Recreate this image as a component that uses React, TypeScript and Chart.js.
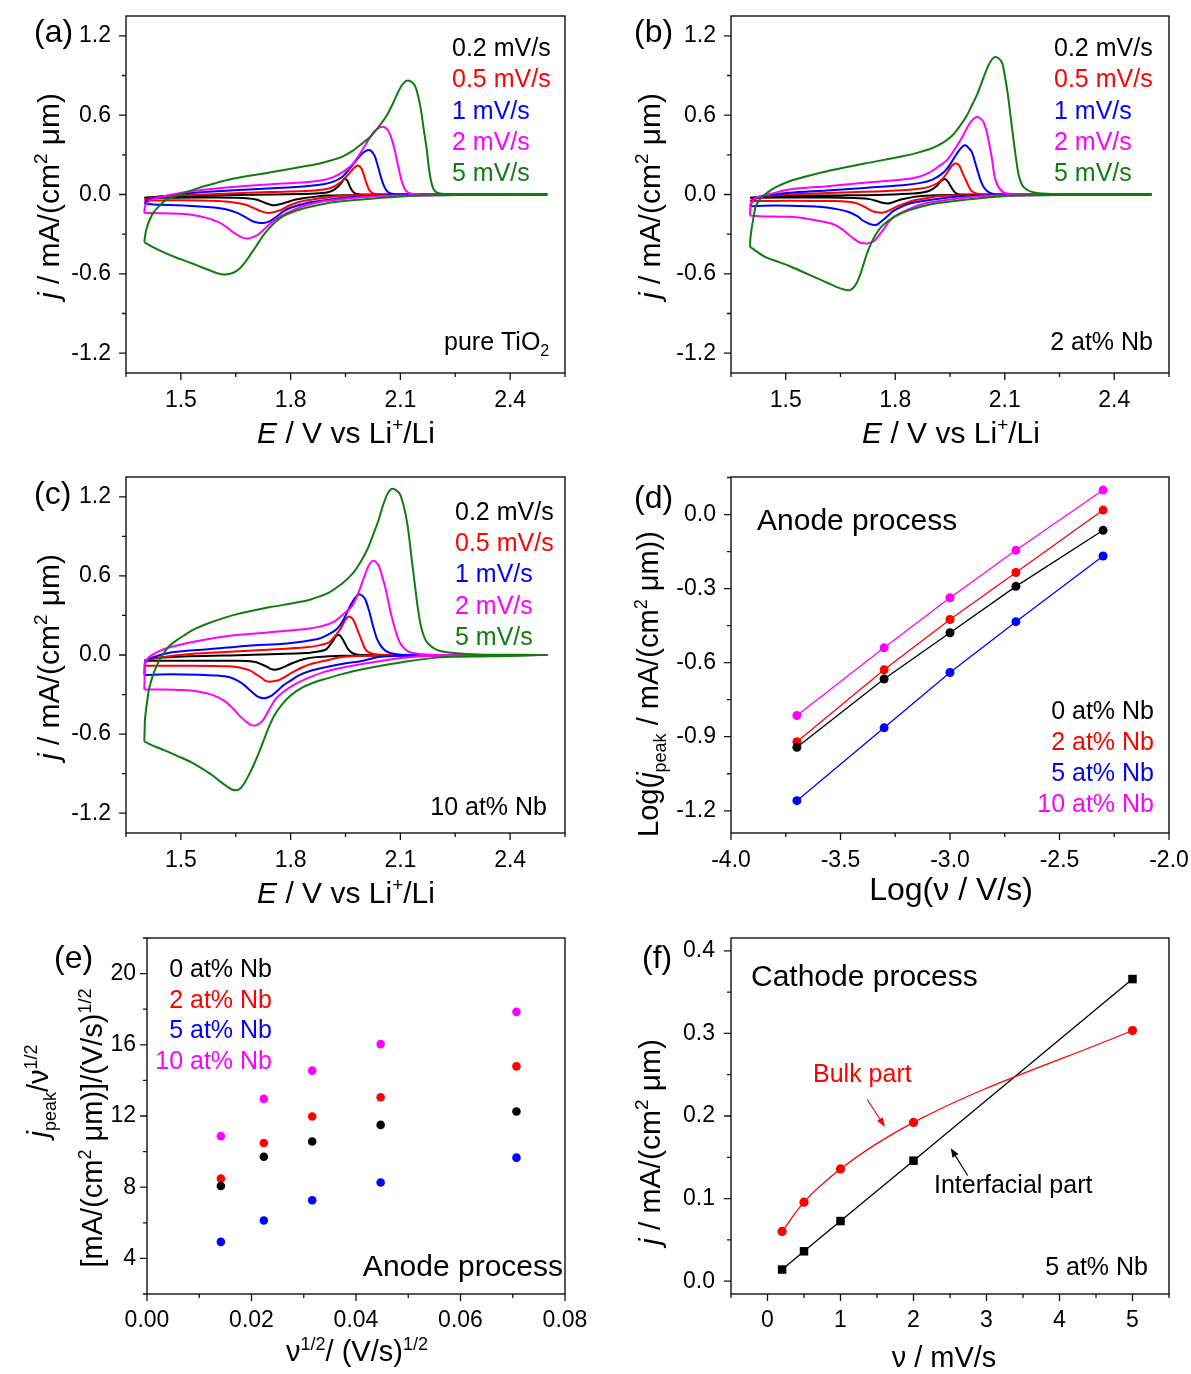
import React, { useEffect, useRef } from 'react';
import { Chart, registerables } from 'chart.js';
Chart.register(...registerables);

const FONT = '"Liberation Sans", Arial, Helvetica, sans-serif';
const BLACK = '#000000', RED = '#ff0000', BLUE = '#0000ff', MAGENTA = '#ff00ff', GREEN = '#0e7d0e';

type Pt = [number, number];

// ---------- Panel (a): pure TiO2 CV loops (E / V, j / mA cm^-2 um^-1) ----------
const CV_A_02: Pt[] = [
  [1.40,-0.025],[1.45,-0.015],[1.55,-0.008],[1.65,-0.004],[1.75,0.0],[1.85,0.006],[1.894,0.013],[1.915,0.03],[1.93,0.06],[1.942,0.1],[1.947,0.121],[1.955,0.105],[1.962,0.06],[1.968,0.03],[1.978,0.006],[2.0,0.0],[2.5,0.0],
  [2.0,-0.003],[1.9,-0.008],[1.863,-0.018],[1.83,-0.03],[1.811,-0.04],[1.79,-0.058],[1.774,-0.072],[1.758,-0.081],[1.745,-0.077],[1.725,-0.058],[1.706,-0.038],[1.68,-0.028],[1.654,-0.025],[1.55,-0.023],[1.40,-0.025],
];
const CV_A_05: Pt[] = [
  [1.40,-0.045],[1.42,-0.025],[1.47,-0.01],[1.6,0.004],[1.74,0.018],[1.842,0.026],[1.89,0.038],[1.915,0.055],[1.94,0.1],[1.96,0.16],[1.975,0.205],[1.983,0.22],[1.992,0.205],[2.0,0.15],[2.008,0.08],[2.017,0.025],[2.03,0.004],[2.06,0.0],[2.5,0.0],
  [2.0,-0.004],[1.93,-0.012],[1.894,-0.025],[1.85,-0.042],[1.821,-0.058],[1.795,-0.085],[1.775,-0.115],[1.753,-0.134],[1.738,-0.139],[1.72,-0.128],[1.7,-0.103],[1.675,-0.076],[1.64,-0.058],[1.6,-0.05],[1.5,-0.044],[1.40,-0.045],
];
const CV_A_1: Pt[] = [
  [1.40,-0.068],[1.41,-0.042],[1.445,-0.015],[1.53,0.012],[1.633,0.03],[1.738,0.045],[1.842,0.063],[1.89,0.078],[1.915,0.095],[1.94,0.13],[1.96,0.19],[1.98,0.26],[1.998,0.315],[2.01,0.335],[2.02,0.33],[2.03,0.29],[2.04,0.2],[2.048,0.12],[2.056,0.06],[2.065,0.02],[2.08,0.004],[2.12,0.0],[2.5,0.0],
  [2.05,-0.008],[1.947,-0.025],[1.89,-0.045],[1.842,-0.066],[1.8,-0.1],[1.78,-0.128],[1.76,-0.17],[1.745,-0.2],[1.73,-0.213],[1.715,-0.215],[1.696,-0.202],[1.675,-0.17],[1.654,-0.139],[1.62,-0.11],[1.591,-0.098],[1.507,-0.083],[1.424,-0.076],[1.40,-0.068],
];
const CV_A_2: Pt[] = [
  [1.40,-0.139],[1.402,-0.09],[1.41,-0.055],[1.424,-0.033],[1.476,0.0],[1.528,0.025],[1.633,0.055],[1.738,0.076],[1.842,0.093],[1.89,0.11],[1.915,0.13],[1.94,0.165],[1.968,0.225],[1.99,0.31],[2.01,0.4],[2.03,0.48],[2.05,0.513],[2.065,0.49],[2.075,0.43],[2.085,0.33],[2.095,0.2],[2.105,0.09],[2.115,0.03],[2.13,0.006],[2.17,0.0],[2.5,0.0],
  [2.1,-0.008],[1.999,-0.018],[1.94,-0.035],[1.894,-0.05],[1.85,-0.075],[1.821,-0.101],[1.79,-0.14],[1.758,-0.19],[1.74,-0.23],[1.727,-0.265],[1.71,-0.305],[1.696,-0.323],[1.685,-0.333],[1.672,-0.33],[1.66,-0.315],[1.64,-0.28],[1.622,-0.24],[1.6,-0.205],[1.57,-0.177],[1.54,-0.158],[1.507,-0.147],[1.45,-0.141],[1.40,-0.139],
];
const CV_A_5: Pt[] = [
  [1.40,-0.36],[1.403,-0.3],[1.408,-0.24],[1.424,-0.139],[1.44,-0.09],[1.455,-0.05],[1.475,-0.02],[1.497,0.0],[1.549,0.05],[1.6,0.09],[1.633,0.114],[1.738,0.164],[1.842,0.215],[1.88,0.235],[1.905,0.253],[1.94,0.285],[1.968,0.328],[1.995,0.385],[2.02,0.442],[2.04,0.51],[2.062,0.594],[2.08,0.69],[2.093,0.77],[2.105,0.83],[2.116,0.859],[2.128,0.855],[2.14,0.82],[2.148,0.75],[2.156,0.644],[2.164,0.49],[2.172,0.341],[2.178,0.2],[2.184,0.1],[2.19,0.045],[2.198,0.018],[2.219,0.003],[2.26,0.0],[2.5,0.0],
  [2.3,-0.004],[2.156,-0.008],[2.05,-0.025],[1.947,-0.05],[1.9,-0.066],[1.842,-0.1],[1.81,-0.127],[1.78,-0.164],[1.76,-0.205],[1.738,-0.265],[1.72,-0.33],[1.706,-0.39],[1.69,-0.455],[1.675,-0.515],[1.66,-0.562],[1.643,-0.592],[1.622,-0.605],[1.602,-0.598],[1.58,-0.575],[1.555,-0.548],[1.528,-0.518],[1.49,-0.48],[1.455,-0.44],[1.425,-0.4],[1.40,-0.36],
];

// ---------- Panel (b): 2 at% Nb ----------
const CV_B_02: Pt[] = [
  [1.402,-0.025],[1.45,-0.014],[1.55,-0.009],[1.65,-0.007],[1.75,-0.003],[1.85,0.008],[1.871,0.013],[1.895,0.03],[1.912,0.06],[1.925,0.1],[1.936,0.118],[1.944,0.1],[1.95,0.07],[1.958,0.035],[1.966,0.01],[1.98,0.0],[2.5,0.0],
  [1.95,-0.004],[1.88,-0.01],[1.851,-0.018],[1.825,-0.032],[1.809,-0.043],[1.795,-0.058],[1.78,-0.068],[1.765,-0.063],[1.75,-0.05],[1.73,-0.035],[1.716,-0.03],[1.613,-0.023],[1.402,-0.025],
];
const CV_B_05: Pt[] = [
  [1.402,-0.05],[1.418,-0.025],[1.459,-0.008],[1.56,0.005],[1.716,0.02],[1.82,0.033],[1.87,0.045],[1.892,0.058],[1.915,0.085],[1.933,0.13],[1.948,0.19],[1.958,0.225],[1.967,0.234],[1.975,0.22],[1.985,0.16],[1.995,0.1],[2.003,0.05],[2.01,0.025],[2.025,0.005],[2.05,0.0],[2.5,0.0],
  [1.98,-0.005],[1.92,-0.012],[1.892,-0.025],[1.855,-0.042],[1.83,-0.063],[1.805,-0.09],[1.789,-0.113],[1.775,-0.13],[1.763,-0.138],[1.75,-0.135],[1.737,-0.126],[1.72,-0.1],[1.696,-0.068],[1.67,-0.055],[1.634,-0.05],[1.51,-0.048],[1.402,-0.05],
];
const CV_B_1: Pt[] = [
  [1.402,-0.088],[1.407,-0.06],[1.412,-0.038],[1.438,-0.013],[1.51,0.013],[1.613,0.03],[1.716,0.05],[1.82,0.07],[1.87,0.088],[1.902,0.113],[1.925,0.15],[1.943,0.2],[1.96,0.27],[1.974,0.33],[1.985,0.365],[1.992,0.372],[2.0,0.355],[2.01,0.32],[2.018,0.25],[2.026,0.175],[2.034,0.105],[2.041,0.063],[2.05,0.03],[2.062,0.01],[2.08,0.0],[2.5,0.0],
  [2.026,-0.008],[1.96,-0.018],[1.923,-0.03],[1.875,-0.05],[1.84,-0.068],[1.815,-0.095],[1.794,-0.126],[1.78,-0.16],[1.768,-0.189],[1.758,-0.212],[1.749,-0.229],[1.738,-0.228],[1.727,-0.219],[1.71,-0.195],[1.696,-0.164],[1.67,-0.13],[1.634,-0.108],[1.6,-0.095],[1.562,-0.088],[1.469,-0.083],[1.402,-0.088],
];
const CV_B_2: Pt[] = [
  [1.402,-0.158],[1.403,-0.1],[1.406,-0.063],[1.418,-0.025],[1.459,0.005],[1.51,0.038],[1.613,0.063],[1.716,0.088],[1.82,0.113],[1.86,0.13],[1.892,0.164],[1.92,0.215],[1.943,0.264],[1.965,0.35],[1.985,0.44],[2.0,0.52],[2.012,0.565],[2.023,0.586],[2.033,0.575],[2.041,0.553],[2.05,0.48],[2.057,0.39],[2.065,0.27],[2.072,0.138],[2.08,0.07],[2.088,0.038],[2.1,0.012],[2.119,0.003],[2.15,0.0],[2.5,0.0],
  [2.077,-0.008],[2.0,-0.02],[1.974,-0.03],[1.92,-0.05],[1.871,-0.075],[1.83,-0.12],[1.799,-0.164],[1.78,-0.215],[1.768,-0.264],[1.755,-0.31],[1.742,-0.352],[1.722,-0.37],[1.705,-0.365],[1.696,-0.352],[1.675,-0.31],[1.655,-0.264],[1.63,-0.225],[1.593,-0.201],[1.55,-0.18],[1.51,-0.169],[1.428,-0.164],[1.402,-0.158],
];
const CV_B_5: Pt[] = [
  [1.402,-0.395],[1.403,-0.34],[1.405,-0.289],[1.41,-0.2],[1.418,-0.088],[1.428,-0.04],[1.438,-0.013],[1.45,0.015],[1.469,0.05],[1.51,0.1],[1.56,0.14],[1.613,0.176],[1.716,0.234],[1.82,0.289],[1.86,0.315],[1.902,0.352],[1.93,0.39],[1.954,0.44],[1.975,0.51],[1.995,0.591],[2.01,0.675],[2.026,0.767],[2.04,0.87],[2.052,0.956],[2.062,1.01],[2.072,1.039],[2.083,1.03],[2.093,0.994],[2.1,0.9],[2.108,0.767],[2.116,0.59],[2.124,0.415],[2.132,0.25],[2.139,0.138],[2.148,0.07],[2.16,0.038],[2.18,0.015],[2.201,0.008],[2.25,0.002],[2.5,0.0],
  [2.3,-0.004],[2.129,-0.008],[2.026,-0.03],[1.923,-0.063],[1.87,-0.092],[1.835,-0.122],[1.805,-0.158],[1.78,-0.2],[1.76,-0.25],[1.745,-0.31],[1.733,-0.375],[1.722,-0.45],[1.713,-0.53],[1.704,-0.605],[1.695,-0.665],[1.685,-0.705],[1.675,-0.724],[1.662,-0.72],[1.644,-0.704],[1.62,-0.675],[1.593,-0.642],[1.55,-0.59],[1.51,-0.541],[1.48,-0.51],[1.448,-0.478],[1.425,-0.44],[1.402,-0.395],
];

// ---------- Panel (c): 10 at% Nb ----------
const CV_C_02: Pt[] = [
  [1.40,-0.043],[1.423,-0.025],[1.528,-0.01],[1.68,0.0],[1.842,0.015],[1.87,0.025],[1.895,0.04],[1.906,0.07],[1.916,0.108],[1.922,0.135],[1.929,0.154],[1.936,0.145],[1.942,0.121],[1.95,0.08],[1.957,0.045],[1.965,0.022],[1.973,0.01],[1.99,0.0],[2.5,0.0],
  [1.94,-0.005],[1.863,-0.018],[1.835,-0.032],[1.811,-0.055],[1.79,-0.08],[1.774,-0.101],[1.758,-0.111],[1.745,-0.105],[1.738,-0.093],[1.72,-0.07],[1.706,-0.055],[1.68,-0.046],[1.654,-0.043],[1.528,-0.043],[1.40,-0.043],
];
const CV_C_05: Pt[] = [
  [1.40,-0.081],[1.402,-0.06],[1.407,-0.043],[1.444,-0.018],[1.528,0.008],[1.633,0.025],[1.738,0.04],[1.842,0.058],[1.88,0.075],[1.905,0.096],[1.92,0.14],[1.936,0.197],[1.948,0.26],[1.957,0.29],[1.965,0.285],[1.973,0.26],[1.98,0.21],[1.989,0.146],[1.997,0.09],[2.004,0.045],[2.015,0.018],[2.031,0.006],[2.06,0.0],[2.5,0.0],
  [1.999,-0.005],[1.94,-0.015],[1.895,-0.043],[1.86,-0.065],[1.832,-0.093],[1.81,-0.125],[1.79,-0.156],[1.775,-0.18],[1.764,-0.194],[1.743,-0.202],[1.73,-0.195],[1.722,-0.176],[1.705,-0.145],[1.69,-0.118],[1.66,-0.095],[1.633,-0.086],[1.528,-0.081],[1.40,-0.081],
];
const CV_C_1: Pt[] = [
  [1.40,-0.151],[1.401,-0.1],[1.404,-0.055],[1.423,-0.018],[1.476,0.02],[1.581,0.045],[1.685,0.071],[1.79,0.088],[1.874,0.121],[1.9,0.15],[1.926,0.197],[1.945,0.27],[1.963,0.373],[1.975,0.43],[1.987,0.461],[1.996,0.45],[2.004,0.423],[2.015,0.33],[2.025,0.222],[2.035,0.13],[2.046,0.071],[2.058,0.035],[2.072,0.015],[2.1,0.002],[2.14,0.0],[2.5,0.0],
  [2.1,-0.005],[2.04,-0.015],[1.999,-0.043],[1.947,-0.065],[1.895,-0.093],[1.855,-0.12],[1.821,-0.156],[1.8,-0.195],[1.779,-0.232],[1.765,-0.27],[1.748,-0.308],[1.737,-0.322],[1.727,-0.328],[1.716,-0.322],[1.706,-0.308],[1.69,-0.27],[1.675,-0.232],[1.655,-0.195],[1.633,-0.169],[1.6,-0.156],[1.56,-0.151],[1.476,-0.146],[1.40,-0.151],
];
const CV_C_2: Pt[] = [
  [1.40,-0.262],[1.401,-0.15],[1.402,-0.055],[1.41,-0.025],[1.418,-0.005],[1.455,0.045],[1.528,0.096],[1.633,0.146],[1.738,0.171],[1.842,0.197],[1.88,0.215],[1.915,0.247],[1.94,0.3],[1.968,0.373],[1.985,0.47],[1.999,0.575],[2.012,0.67],[2.023,0.713],[2.033,0.705],[2.041,0.676],[2.05,0.6],[2.062,0.474],[2.072,0.34],[2.083,0.222],[2.093,0.13],[2.104,0.071],[2.12,0.03],[2.135,0.015],[2.17,0.003],[2.22,0.0],[2.5,0.0],
  [2.25,-0.005],[2.156,-0.01],[2.051,-0.043],[1.947,-0.093],[1.89,-0.13],[1.842,-0.181],[1.81,-0.225],[1.779,-0.282],[1.76,-0.33],[1.748,-0.383],[1.737,-0.435],[1.727,-0.484],[1.715,-0.52],[1.704,-0.534],[1.69,-0.53],[1.68,-0.509],[1.66,-0.46],[1.643,-0.408],[1.62,-0.35],[1.591,-0.308],[1.56,-0.285],[1.528,-0.27],[1.445,-0.262],[1.40,-0.262],
];
const CV_C_5: Pt[] = [
  [1.40,-0.655],[1.401,-0.56],[1.402,-0.484],[1.407,-0.37],[1.413,-0.257],[1.423,-0.16],[1.434,-0.081],[1.45,0.0],[1.465,0.058],[1.485,0.105],[1.507,0.146],[1.54,0.2],[1.581,0.247],[1.654,0.31],[1.738,0.36],[1.842,0.411],[1.875,0.44],[1.905,0.474],[1.94,0.54],[1.968,0.613],[1.99,0.7],[2.01,0.802],[2.028,0.93],[2.041,1.028],[2.052,1.13],[2.062,1.205],[2.07,1.245],[2.078,1.26],[2.088,1.25],[2.099,1.218],[2.11,1.12],[2.12,0.978],[2.13,0.75],[2.14,0.524],[2.148,0.35],[2.156,0.222],[2.166,0.13],[2.177,0.083],[2.195,0.045],[2.219,0.025],[2.282,0.008],[2.35,0.002],[2.5,0.0],
  [2.35,-0.01],[2.208,-0.018],[2.104,-0.055],[1.999,-0.106],[1.94,-0.145],[1.895,-0.181],[1.86,-0.212],[1.83,-0.25],[1.8,-0.308],[1.775,-0.38],[1.755,-0.46],[1.74,-0.55],[1.726,-0.65],[1.712,-0.75],[1.698,-0.84],[1.685,-0.915],[1.674,-0.97],[1.664,-1.008],[1.652,-1.026],[1.64,-1.02],[1.625,-0.995],[1.605,-0.955],[1.585,-0.91],[1.56,-0.865],[1.528,-0.812],[1.49,-0.765],[1.455,-0.723],[1.43,-0.695],[1.40,-0.655],
];

// ---------- Panel (d): log peak current vs log scan rate ----------
const LOG_V = [-3.699, -3.301, -3.0, -2.699, -2.301];
const D_NB0 = [-0.943, -0.666, -0.479, -0.291, -0.064];
const D_NB2 = [-0.92, -0.629, -0.425, -0.235, 0.018];
const D_NB5 = [-1.159, -0.864, -0.64, -0.434, -0.168];
const D_NB10 = [-0.814, -0.54, -0.337, -0.145, 0.099];

// ---------- Panel (e): j_peak / v^1/2 vs v^1/2 ----------
const SQRT_V = [0.01414, 0.02236, 0.03162, 0.04472, 0.07071];
const E_NB0 = [8.07, 9.71, 10.57, 11.5, 12.25];
const E_NB2 = [8.48, 10.48, 11.97, 13.05, 14.79];
const E_NB5 = [4.93, 6.13, 7.27, 8.26, 9.66];
const E_NB10 = [10.87, 12.96, 14.55, 16.04, 17.85];

// ---------- Panel (f): cathode process, 5 at% Nb ----------
const SCAN_RATE = [0.2, 0.5, 1, 2, 5];
const F_BULK = [0.0603, 0.0957, 0.1359, 0.1922, 0.3035];
const F_INTERFACIAL = [0.0141, 0.0362, 0.0728, 0.1459, 0.3658];

// ---------- labels & ticks ----------
const SCAN_LABELS = ['0.2 mV/s', '0.5 mV/s', '1 mV/s', '2 mV/s', '5 mV/s'];
const SCAN_COLORS = [BLACK, RED, BLUE, MAGENTA, GREEN];
const NB_LABELS = ['0 at% Nb', '2 at% Nb', '5 at% Nb', '10 at% Nb'];
const NB_COLORS = [BLACK, RED, BLUE, MAGENTA];

const CV_X_TICKS = [1.5, 1.8, 2.1, 2.4];
const CV_X_MINOR = [1.35, 1.65, 1.95, 2.25, 2.55];
const CV_Y_TICKS = [-1.2, -0.6, 0, 0.6, 1.2];
const CV_Y_MINOR = [-0.9, -0.3, 0.3, 0.9];
const D_X_TICKS = [-4.0, -3.5, -3.0, -2.5, -2.0];
const D_X_MINOR = [-3.75, -3.25, -2.75, -2.25];
const D_Y_TICKS = [-1.2, -0.9, -0.6, -0.3, 0.0];
const D_Y_MINOR = [-1.05, -0.75, -0.45, -0.15, 0.15];
const E_X_TICKS = [0, 0.02, 0.04, 0.06, 0.08];
const E_X_MINOR = [0.01, 0.03, 0.05, 0.07];
const E_Y_TICKS = [4, 8, 12, 16, 20];
const E_Y_MINOR = [2, 6, 10, 14, 18, 22];
const F_X_TICKS = [0, 1, 2, 3, 4, 5];
const F_X_MINOR = [-0.5, 0.5, 1.5, 2.5, 3.5, 4.5, 5.5];
const F_Y_TICKS = [0, 0.1, 0.2, 0.3, 0.4];
const F_Y_MINOR = [0.05, 0.15, 0.25, 0.35];

// ---------- types & helpers ----------
type Seg = { t: string; it?: boolean; sup?: boolean; sub?: boolean };
type TextItem = { x: number; y: number; s: Seg[]; size: number; color?: string; align?: 'left' | 'right' | 'center'; rot?: boolean };
type Arrow = { from: Pt; to: Pt; color: string };
type AxisSpec = { min: number; max: number; major: number[]; minor: number[]; fmt: (v: number) => string; pad: number };
type PanelSpec = {
  left: number; top: number; w: number; h: number;
  box: { l: number; t: number; r: number; b: number };
  x: AxisSpec; y: AxisSpec;
  datasets: any[];
  texts: TextItem[];
  arrows?: Arrow[];
};

const T = (t: string): Seg => ({ t });
const I = (t: string): Seg => ({ t, it: true });
const SUP = (t: string): Seg => ({ t, sup: true });
const SUB = (t: string): Seg => ({ t, sub: true });

const X_TITLE_CV = [I('E'), T(' / V vs Li'), SUP('+'), T('/Li')];
const Y_TITLE_J = [I('j'), T(' / mA/(cm'), SUP('2'), T(' μm)')];

function drawRich(ctx: CanvasRenderingContext2D, it: TextItem) {
  const sz = it.size;
  const fontOf = (s: Seg) => `${s.it ? 'italic ' : ''}${s.sup || s.sub ? Math.round(sz * 0.62) : sz}px ${FONT}`;
  const widths = it.s.map((s) => { ctx.font = fontOf(s); return ctx.measureText(s.t).width; });
  const total = widths.reduce((a, b) => a + b, 0);
  ctx.save();
  ctx.translate(it.x, it.y);
  if (it.rot) ctx.rotate(-Math.PI / 2);
  ctx.fillStyle = it.color || '#000';
  ctx.textBaseline = 'alphabetic';
  ctx.textAlign = 'left';
  let cx = it.align === 'left' ? 0 : it.align === 'right' ? -total : -total / 2;
  const base = 0.36 * sz;
  it.s.forEach((s, i) => {
    ctx.font = fontOf(s);
    const dy = s.sup ? -0.4 * sz : s.sub ? 0.25 * sz : 0;
    ctx.fillText(s.t, cx, base + dy);
    cx += widths[i];
  });
  ctx.restore();
}

const cvDs = (pts: Pt[], color: string) => ({
  data: pts.map(([x, y]) => ({ x, y })),
  showLine: true, borderColor: color, borderWidth: 2, pointRadius: 0, pointHoverRadius: 0, tension: 0.3, fill: false,
});
const dotDs = (xs: number[], ys: number[], color: string, line: boolean, r: number) => ({
  data: xs.map((x, i) => ({ x, y: ys[i] })),
  showLine: line, borderColor: color, borderWidth: 1.3, pointRadius: r, pointHoverRadius: r,
  pointBackgroundColor: color, pointBorderColor: color, pointBorderWidth: 0, tension: 0,
});

const f1 = (v: number) => v.toFixed(1);
const f2 = (v: number) => v.toFixed(2);
const f0 = (v: number) => String(Math.round(v));

const cvAxes = (padY: number) => ({
  x: { min: 1.35, max: 2.55, major: CV_X_TICKS, minor: CV_X_MINOR, fmt: f1, pad: 14 },
  y: { min: -1.35, max: 1.35, major: CV_Y_TICKS, minor: CV_Y_MINOR, fmt: f1, pad: padY },
});

const cvSets = (l02: Pt[], l05: Pt[], l1: Pt[], l2: Pt[], l5: Pt[]) => [
  cvDs(l5, GREEN), cvDs(l2, MAGENTA), cvDs(l1, BLUE), cvDs(l05, RED), cvDs(l02, BLACK),
];

const scanLegend = (x: number, y0: number, dy: number): TextItem[] =>
  SCAN_LABELS.map((l, i) => ({ x, y: y0 + dy * i, s: [T(l)], size: 25, color: SCAN_COLORS[i], align: 'left' as const }));
const nbLegend = (xr: number, y0: number, dy: number): TextItem[] =>
  NB_LABELS.map((l, i) => ({ x: xr, y: y0 + dy * i, s: [T(l)], size: 25, color: NB_COLORS[i], align: 'right' as const }));

const PANELS: PanelSpec[] = [
  {
    left: 0, top: 0, w: 596, h: 460, box: { l: 126, t: 16, r: 565, b: 373 },
    ...cvAxes(15),
    datasets: cvSets(CV_A_02, CV_A_05, CV_A_1, CV_A_2, CV_A_5),
    texts: [
      { x: 34, y: 30, s: [T('(a)')], size: 32, align: 'left' },
      ...scanLegend(452, 47, 31.3),
      { x: 444, y: 341, s: [T('pure TiO'), SUB('2')], size: 25, align: 'left' },
      { x: 346, y: 432, s: X_TITLE_CV, size: 30 },
      { x: 48, y: 196, s: Y_TITLE_J, size: 30, rot: true },
    ],
  },
  {
    left: 596, top: 0, w: 595, h: 460, box: { l: 135, t: 16, r: 573, b: 373 },
    ...cvAxes(15),
    datasets: cvSets(CV_B_02, CV_B_05, CV_B_1, CV_B_2, CV_B_5),
    texts: [
      { x: 38, y: 30, s: [T('(b)')], size: 32, align: 'left' },
      ...scanLegend(458, 47, 31.3),
      { x: 557, y: 341, s: [T('2 at% Nb')], size: 25, align: 'right' },
      { x: 355, y: 432, s: X_TITLE_CV, size: 30 },
      { x: 53, y: 196, s: Y_TITLE_J, size: 30, rot: true },
    ],
  },
  {
    left: 0, top: 460, w: 596, h: 460, box: { l: 126, t: 17, r: 565, b: 373 },
    ...cvAxes(15),
    datasets: cvSets(CV_C_02, CV_C_05, CV_C_1, CV_C_2, CV_C_5),
    texts: [
      { x: 34, y: 32, s: [T('(c)')], size: 32, align: 'left' },
      ...scanLegend(455, 51, 31.2),
      { x: 547, y: 346, s: [T('10 at% Nb')], size: 25, align: 'right' },
      { x: 346, y: 432, s: X_TITLE_CV, size: 30 },
      { x: 48, y: 197, s: Y_TITLE_J, size: 30, rot: true },
    ],
  },
  {
    left: 596, top: 460, w: 595, h: 460, box: { l: 135, t: 17, r: 573, b: 373 },
    x: { min: -4.0, max: -2.0, major: D_X_TICKS, minor: D_X_MINOR, fmt: f1, pad: 14 },
    y: { min: -1.29, max: 0.152, major: D_Y_TICKS, minor: D_Y_MINOR, fmt: f1, pad: 15 },
    datasets: [
      dotDs(LOG_V, D_NB10, MAGENTA, true, 4.5),
      dotDs(LOG_V, D_NB5, BLUE, true, 4.5),
      dotDs(LOG_V, D_NB0, BLACK, true, 4.5),
      dotDs(LOG_V, D_NB2, RED, true, 4.5),
    ],
    texts: [
      { x: 38, y: 36, s: [T('(d)')], size: 32, align: 'left' },
      { x: 161, y: 59, s: [T('Anode process')], size: 30, align: 'left' },
      ...nbLegend(558, 250, 31),
      { x: 355, y: 428, s: [T('Log(ν / V/s)')], size: 32 },
      { x: 52, y: 224, s: [T('Log('), I('j'), SUB('peak'), T(' / mA/(cm'), SUP('2'), T(' μm))')], size: 29, rot: true },
    ],
  },
  {
    left: 0, top: 920, w: 596, h: 454, box: { l: 147, t: 18, r: 565, b: 374 },
    x: { min: 0, max: 0.08, major: E_X_TICKS, minor: E_X_MINOR, fmt: f2, pad: 13 },
    y: { min: 2, max: 22, major: E_Y_TICKS, minor: E_Y_MINOR, fmt: f0, pad: 11 },
    datasets: [
      dotDs(SQRT_V, E_NB0, BLACK, false, 4.3),
      dotDs(SQRT_V, E_NB2, RED, false, 4.3),
      dotDs(SQRT_V, E_NB5, BLUE, false, 4.3),
      dotDs(SQRT_V, E_NB10, MAGENTA, false, 4.3),
    ],
    texts: [
      { x: 54, y: 36, s: [T('(e)')], size: 32, align: 'left' },
      ...nbLegend(272, 48, 30.5),
      { x: 563, y: 345, s: [T('Anode process')], size: 30, align: 'right' },
      { x: 357, y: 431, s: [T('ν'), SUP('1/2'), T('/ (V/s)'), SUP('1/2')], size: 29 },
      { x: 38, y: 171, s: [I('j'), SUB('peak'), T('/ν'), SUP('1/2')], size: 29, rot: true },
      { x: 92, y: 208, s: [T('[mA/(cm'), SUP('2'), T(' μm)]/(V/s)'), SUP('1/2')], size: 29, rot: true },
    ],
  },
  {
    left: 596, top: 920, w: 595, h: 454, box: { l: 135, t: 18, r: 573, b: 374 },
    x: { min: -0.5, max: 5.5, major: F_X_TICKS, minor: F_X_MINOR, fmt: f0, pad: 13 },
    y: { min: -0.0155, max: 0.4155, major: F_Y_TICKS, minor: F_Y_MINOR, fmt: f1, pad: 16 },
    datasets: [
      { ...dotDs(SCAN_RATE, F_BULK, RED, true, 4.6), cubicInterpolationMode: 'monotone' },
      { ...dotDs(SCAN_RATE, F_INTERFACIAL, BLACK, true, 6), pointStyle: 'rect' },
    ],
    arrows: [
      { from: [1.366, 0.220], to: [1.608, 0.187], color: RED },
      { from: [2.742, 0.128], to: [2.51, 0.161], color: BLACK },
    ],
    texts: [
      { x: 46, y: 36, s: [T('(f)')], size: 32, align: 'left' },
      { x: 155, y: 55, s: [T('Cathode process')], size: 30, align: 'left' },
      { x: 552, y: 346, s: [T('5 at% Nb')], size: 25, align: 'right' },
      { x: 217, y: 153, s: [T('Bulk part')], size: 25, color: RED, align: 'left' },
      { x: 338, y: 264, s: [T('Interfacial part')], size: 25, align: 'left' },
      { x: 348, y: 437, s: [T('ν / mV/s')], size: 29 },
      { x: 53, y: 222, s: Y_TITLE_J, size: 30, rot: true },
    ],
  },
];

function Panel({ spec }: { spec: PanelSpec }) {
  const ref = useRef<HTMLCanvasElement>(null);
  useEffect(() => {
    const canvas = ref.current;
    if (!canvas) return;
    const { box, w, h } = spec;
    const decor = {
      id: 'decor',
      afterDatasetsDraw(chart: any) {
        const { ctx, chartArea: a, scales } = chart;
        const xs = scales.x, ys = scales.y;
        ctx.save();
        ctx.strokeStyle = '#111';
        ctx.lineWidth = 1.4;
        ctx.strokeRect(a.left, a.top, a.right - a.left, a.bottom - a.top);
        ctx.lineWidth = 1.3;
        ctx.beginPath();
        const tx = (v: number, len: number) => { const p = xs.getPixelForValue(v); ctx.moveTo(p, a.bottom); ctx.lineTo(p, a.bottom + len); };
        const ty = (v: number, len: number) => { const p = ys.getPixelForValue(v); ctx.moveTo(a.left, p); ctx.lineTo(a.left - len, p); };
        spec.x.major.forEach((v) => tx(v, 7));
        spec.x.minor.forEach((v) => tx(v, 4));
        spec.y.major.forEach((v) => ty(v, 7));
        spec.y.minor.forEach((v) => ty(v, 4));
        ctx.stroke();
        (spec.arrows || []).forEach((ar) => {
          const x1 = xs.getPixelForValue(ar.from[0]), y1 = ys.getPixelForValue(ar.from[1]);
          const x2 = xs.getPixelForValue(ar.to[0]), y2 = ys.getPixelForValue(ar.to[1]);
          const ang = Math.atan2(y2 - y1, x2 - x1);
          ctx.strokeStyle = ar.color; ctx.fillStyle = ar.color; ctx.lineWidth = 1.2;
          ctx.beginPath(); ctx.moveTo(x1, y1); ctx.lineTo(x2 - 6 * Math.cos(ang), y2 - 6 * Math.sin(ang)); ctx.stroke();
          ctx.beginPath();
          ctx.moveTo(x2, y2);
          ctx.lineTo(x2 - 9 * Math.cos(ang) + 3.5 * Math.sin(ang), y2 - 9 * Math.sin(ang) - 3.5 * Math.cos(ang));
          ctx.lineTo(x2 - 9 * Math.cos(ang) - 3.5 * Math.sin(ang), y2 - 9 * Math.sin(ang) + 3.5 * Math.cos(ang));
          ctx.closePath(); ctx.fill();
        });
        ctx.restore();
        spec.texts.forEach((t) => drawRich(ctx, t));
      },
    };
    const axisCfg = (ax: AxisSpec, isX: boolean) => ({
      type: 'linear',
      position: isX ? 'bottom' : 'left',
      min: ax.min, max: ax.max,
      afterBuildTicks: (s: any) => { s.ticks = ax.major.map((v) => ({ value: v })); },
      afterFit: (s: any) => {
        if (isX) { s.height = h - box.b; s.paddingLeft = 0; s.paddingRight = 0; }
        else { s.width = box.l; s.paddingTop = 0; s.paddingBottom = 0; }
      },
      ticks: {
        callback: (v: any) => ax.fmt(Number(v)),
        color: '#000', font: { family: 'Liberation Sans', size: 23 },
        padding: ax.pad, autoSkip: false, maxRotation: 0, minRotation: 0,
      },
      grid: { display: false, drawTicks: false },
      border: { display: false },
    });
    const chart = new Chart(canvas, {
      type: 'scatter',
      data: { datasets: spec.datasets },
      options: {
        responsive: false, maintainAspectRatio: false, animation: false, devicePixelRatio: 1,
        events: [],
        layout: { padding: { left: 0, top: box.t, right: w - box.r, bottom: 0 } },
        plugins: { legend: { display: false }, tooltip: { enabled: false } },
        scales: { x: axisCfg(spec.x, true) as any, y: axisCfg(spec.y, false) as any },
      },
      plugins: [decor],
    } as any);
    return () => chart.destroy();
  }, [spec]);
  return (
    <canvas
      ref={ref}
      width={spec.w}
      height={spec.h}
      style={{ position: 'absolute', left: spec.left, top: spec.top, width: spec.w, height: spec.h }}
    />
  );
}

export default function App() {
  return (
    <div style={{ position: 'absolute', left: 0, top: 0, width: 1191, height: 1374, background: '#fff', overflow: 'hidden' }}>
      {PANELS.map((p, i) => <Panel key={i} spec={p} />)}
    </div>
  );
}
